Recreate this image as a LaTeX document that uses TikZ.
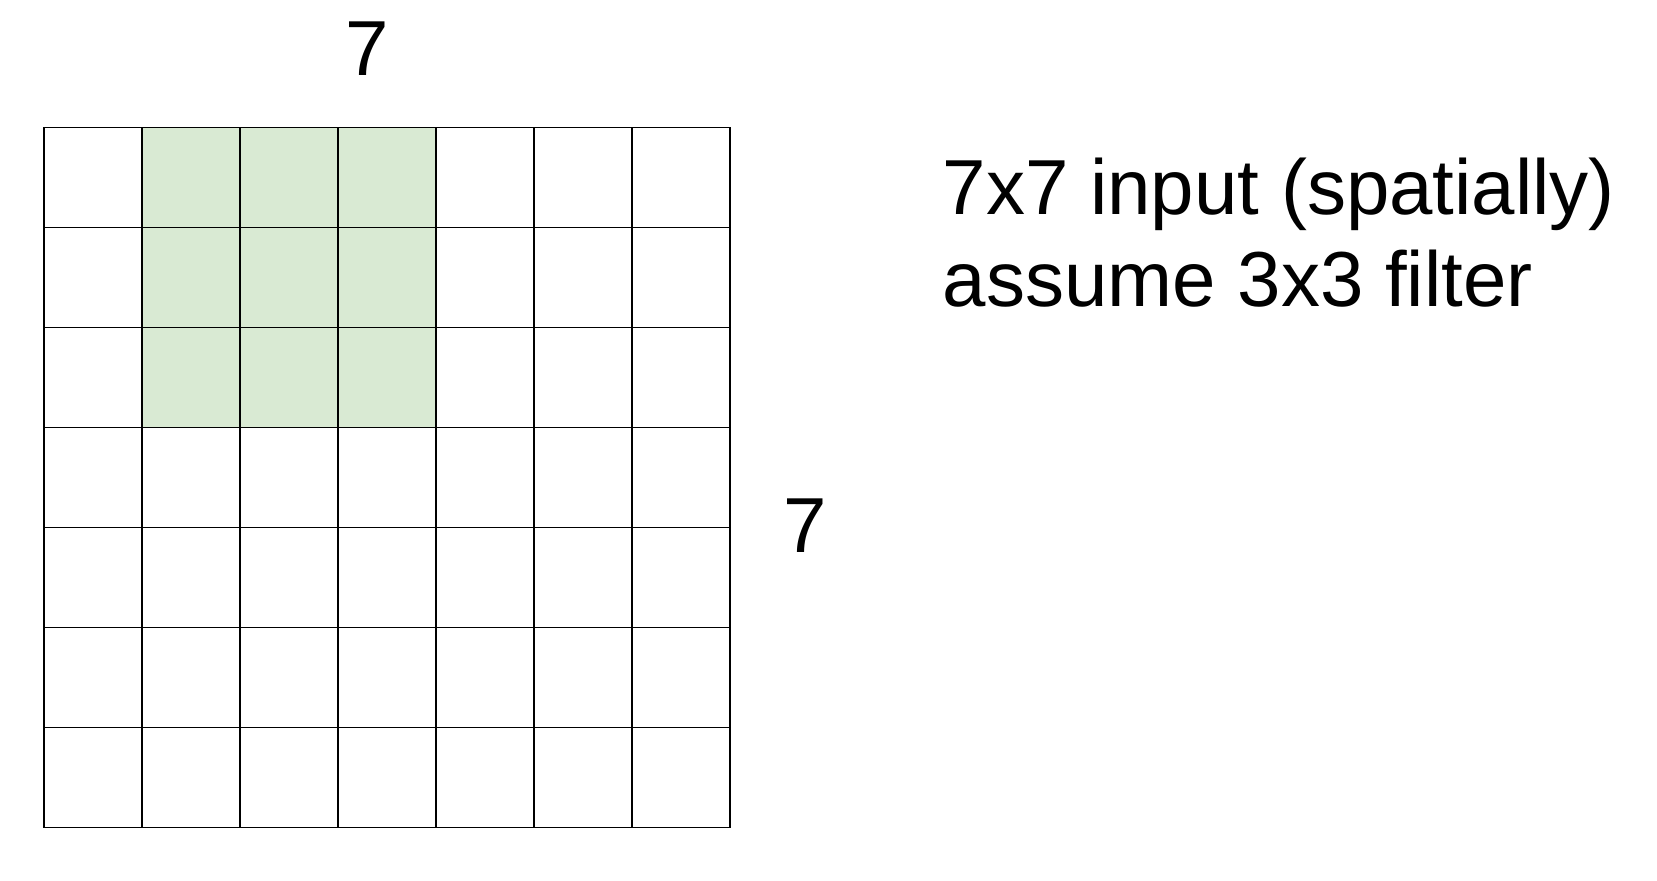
\documentclass[tikz,border=0pt]{standalone}
\usepackage{fontspec}
\setmainfont{Liberation Sans}
\usetikzlibrary{positioning}
\definecolor{filtergreen}{HTML}{D9EAD3}

\begin{document}
\begin{tikzpicture}[
 dimlabel/.style={inner sep=0pt,font=\fontsize{44.4}{52.4}\selectfont},
 cellline/.style={line width=1.1pt,line cap=rect}]
\useasboundingbox (0,0) rectangle (33.14,17.62);
% 3x3 filter window
\foreach \c in {1,2,3}
 \foreach \r in {0,1,2}
  \fill[filtergreen] (0.88+\c*1.96,15.07-2*\r) rectangle (0.88+\c*1.96+1.96,15.07-2*\r-2);
% 7x7 input grid
\foreach \i in {0,...,7} {
 \draw[cellline] (0.88+\i*1.96,1.07) -- (0.88+\i*1.96,15.07);
 \draw[cellline] (0.88,1.07+2*\i) -- (14.6,1.07+2*\i);
}
\node[dimlabel,anchor=base] (toplabel) at (7.34,16.10) {7};
\node[dimlabel,anchor=base] (sidelabel) at (16.1,6.56) {7};
\node[dimlabel,anchor=base west] (inputnote) at (18.85,13.32) {7x7 input (spatially)};
\node[dimlabel,anchor=base west] (filternote) at ([yshift=-1.84cm]inputnote.base west) {assume 3x3 filter};
\end{tikzpicture}
\end{document}
